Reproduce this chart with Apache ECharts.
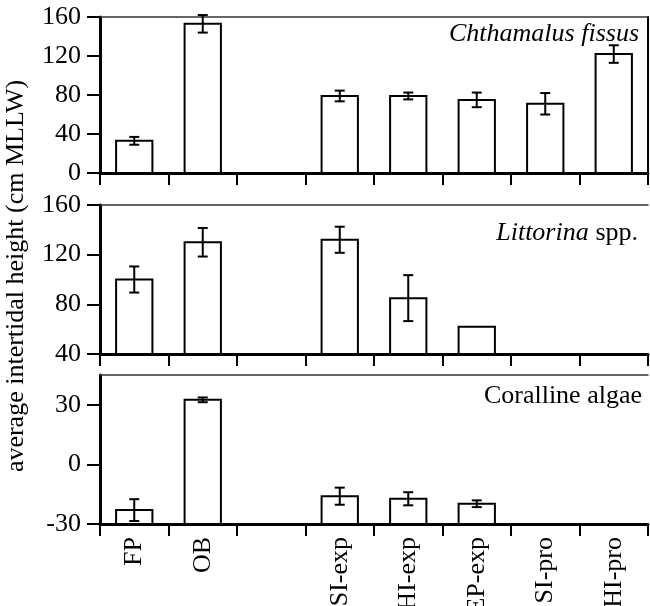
<!DOCTYPE html>
<html><head><meta charset="utf-8">
<script src="https://cdn.jsdelivr.net/npm/echarts@6/dist/echarts.min.js"></script>
<style>html,body{margin:0;padding:0;background:#fff}#c{width:650px;height:606px}</style>
</head><body><div id="c"></div><script>
const categories = ['FP', 'OB', '', 'SI-exp', 'HI-exp', 'EP-exp', 'SI-pro', 'HI-pro'];

const chthMean = [33, 153, null, 79, 79, 75, 71, 122];
const chthErr  = [4, 9, null, 5.5, 3.5, 7.5, 11, 9];

const littMean = [100, 130, null, 132, 85, 62, null, null];
const littErr  = [10.5, 11.5, null, 10.5, 18.5, null, null, null];

const coralMean = [-23, 32.5, null, -16, -17.3, -19.8, null, null];
const coralErr  = [5.5, 1.2, null, 4.3, 3.3, 1.7, null, null];

const chthTicks = [0, 40, 80, 120, 160];
const littTicks = [40, 80, 120, 160];
const coralTicks = [-30, 0, 30];

const yTitle = 'average intertidal height (cm MLLW)';

const FONT = '"Liberation Serif", "Times New Roman", serif';
const FS = 26;

const panels = [
  {mean: chthMean, err: chthErr, ticks: chthTicks, min: 0, max: 160, interval: 40, top: 17, height: 156},
  {mean: littMean, err: littErr, ticks: littTicks, min: 40, max: 160, interval: 40, top: 205, height: 149},
  {mean: coralMean, err: coralErr, ticks: coralTicks, min: -30, max: 45, interval: 30, top: 375, height: 149}
];

function barRenderer(yMin) {
  return function (params, api) {
    const x = api.value(0), v = api.value(1);
    const base = api.coord([x, yMin]);
    const top = api.coord([x, v]);
    const w = api.size([1, 0])[0] * 0.53;
    return {
      type: 'rect',
      shape: {x: base[0] - w / 2, y: top[1], width: w, height: base[1] - top[1]},
      style: {fill: '#fff', stroke: '#000', lineWidth: 2}
    };
  };
}

function errRenderer(params, api) {
  const x = api.value(0);
  const lo = api.coord([x, api.value(1)]);
  const hi = api.coord([x, api.value(2)]);
  const cap = 5;
  const st = {stroke: '#000', lineWidth: 2};
  return {
    type: 'group',
    children: [
      {type: 'line', shape: {x1: lo[0], y1: lo[1], x2: hi[0], y2: hi[1]}, style: st},
      {type: 'line', shape: {x1: lo[0] - cap, y1: lo[1], x2: lo[0] + cap, y2: lo[1]}, style: st},
      {type: 'line', shape: {x1: hi[0] - cap, y1: hi[1], x2: hi[0] + cap, y2: hi[1]}, style: st}
    ]
  };
}

const grid = [], xAxis = [], yAxis = [], series = [];
panels.forEach((p, i) => {
  grid.push({left: 100, right: 2, top: p.top, height: p.height, containLabel: false, outerBoundsMode: 'none'});
  xAxis.push({
    gridIndex: i, type: 'category', data: categories, position: 'bottom',
    axisLine: {onZero: false, lineStyle: {color: '#000', width: 3}},
    axisTick: {show: true, interval: 0, length: 12, lineStyle: {color: '#000', width: 2}},
    axisLabel: {show: i === 2, interval: 0, rotate: 90, margin: 13, fontSize: FS, fontFamily: FONT, color: '#000'},
    splitLine: {show: false}
  });
  xAxis.push({
    gridIndex: i, type: 'category', data: categories, position: 'top',
    axisLine: {show: true, onZero: false, lineStyle: {color: '#333', width: 1.5}},
    axisTick: {show: false}, axisLabel: {show: false}, splitLine: {show: false}
  });
  yAxis.push({
    gridIndex: i, type: 'value', min: p.min, max: p.max, interval: p.interval, position: 'left',
    axisLine: {show: true, onZero: false, lineStyle: {color: '#000', width: 3}},
    axisTick: {show: true, length: 13, customValues: p.ticks, lineStyle: {color: '#000', width: 2}},
    axisLabel: {customValues: p.ticks, margin: 19, fontSize: FS, fontFamily: FONT, color: '#000'},
    splitLine: {show: false}
  });
  const barData = [], errData = [];
  p.mean.forEach((v, k) => {
    if (v == null) return;
    barData.push([k, v]);
    if (p.err[k] != null) errData.push([k, v - p.err[k], v + p.err[k]]);
  });
  series.push({
    type: 'custom', xAxisIndex: 2 * i, yAxisIndex: yAxis.length - 1,
    renderItem: barRenderer(p.min), data: barData, encode: {x: 0, y: 1}, z: 3, silent: true
  });
  series.push({
    type: 'custom', xAxisIndex: 2 * i, yAxisIndex: yAxis.length - 1,
    renderItem: errRenderer, data: errData, encode: {x: 0, y: [1, 2]}, z: 4, silent: true
  });
});
yAxis.push({
  gridIndex: 0, type: 'value', min: 0, max: 160, position: 'right',
  axisLine: {show: true, onZero: false, lineStyle: {color: '#000', width: 2}},
  axisTick: {show: false}, axisLabel: {show: false}, splitLine: {show: false}
});

const chart = echarts.init(document.getElementById('c'), null, {renderer: 'canvas'});
chart.setOption({
  animation: false,
  backgroundColor: '#fff',
  textStyle: {fontFamily: FONT},
  grid, xAxis, yAxis, series,
  graphic: [
    {type: 'text', x: 16, y: 276, rotation: Math.PI / 2,
      style: {text: yTitle, font: FS + 'px ' + FONT, fill: '#000', align: 'center', verticalAlign: 'middle'}},
    {type: 'text', x: 639, y: 34,
      style: {text: 'Chthamalus fissus', font: 'italic ' + FS + 'px ' + FONT, fill: '#000', align: 'right', verticalAlign: 'middle'}},
    {type: 'text', x: 638, y: 233,
      style: {text: '{i|Littorina}  {n|spp.}', fill: '#000', align: 'right', verticalAlign: 'middle',
        rich: {i: {fontStyle: 'italic', fontSize: FS, fontFamily: FONT, fill: '#000'}, n: {fontSize: FS, fontFamily: FONT, fill: '#000'}}}},
    {type: 'text', x: 642, y: 396,
      style: {text: 'Coralline algae', font: FS + 'px ' + FONT, fill: '#000', align: 'right', verticalAlign: 'middle'}}
  ]
});
</script></body></html>
